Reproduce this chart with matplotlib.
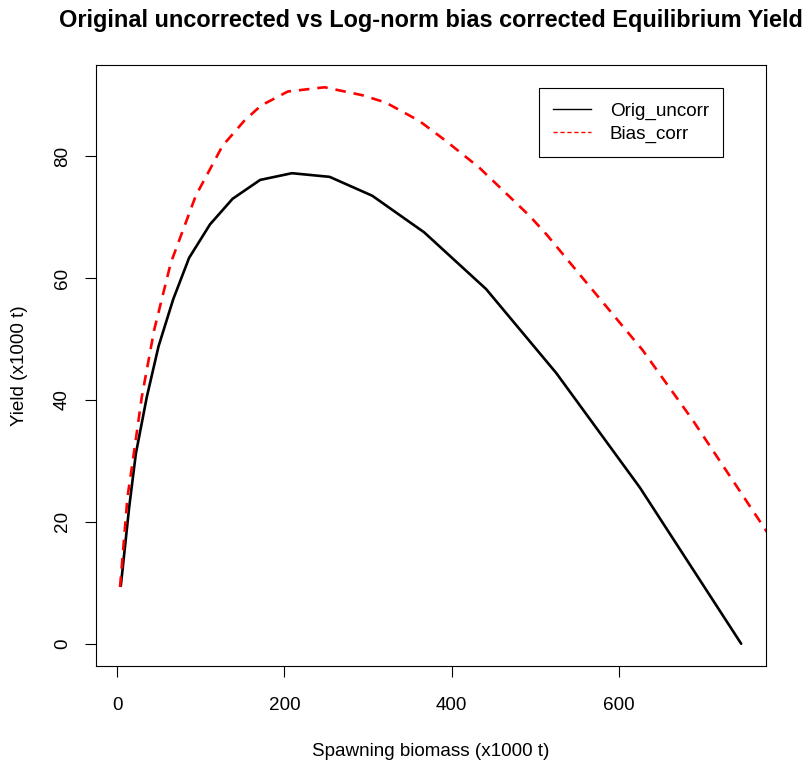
import matplotlib
matplotlib.use("Agg")
import matplotlib.pyplot as plt
from matplotlib.lines import Line2D

plt.rcParams['font.family'] = ['Liberation Sans', 'DejaVu Sans']

# Data (x1000 t)
orig_ssb = [4.4, 14.4, 22.4, 35.5, 49.5, 67, 86, 111, 138, 171, 209, 254, 305, 367, 441, 525, 625, 746]
orig_yield = [9.5, 22.4, 31.2, 40.5, 48.8, 56.5, 63.3, 68.8, 73.0, 76.1, 77.2, 76.6, 73.5, 67.5, 58.2, 44.4, 25.6, 0.0]

bias_ssb = [3.5, 12.4, 18.3, 29.5, 44.3, 64.2, 94, 126, 152, 172, 204, 248, 293, 321, 361, 393, 433, 493, 513, 571, 628, 688, 777]
bias_yield = [9.3, 24.1, 29.6, 40.5, 51.5, 62.5, 73.5, 81.7, 85.8, 88.3, 90.6, 91.3, 90.0, 88.8, 85.8, 82.5, 78.1, 70.2, 67.2, 57.6, 48.2, 36.7, 18.3]

xticks = [0, 200, 400, 600]
yticks = [0, 20, 40, 60, 80]
title = "Original uncorrected vs Log-norm bias corrected Equilibrium Yield"
xlab = "Spawning biomass (x1000 t)"
ylab = "Yield (x1000 t)"
labels = ["Orig_uncorr", "Bias_corr"]

W, H = 805, 765
fig = plt.figure(figsize=(W / 100, H / 100), dpi=100)
L, R, T, B = 96, 766, 65, 666
ax = fig.add_axes([L / W, 1 - B / H, (R - L) / W, (B - T) / H])

ax.plot(orig_ssb, orig_yield, color='black', lw=1.9, solid_capstyle='round', solid_joinstyle='round')
ax.plot(bias_ssb, bias_yield, color='red', lw=1.9, linestyle=(0, (4, 3)), dash_capstyle='butt')

# R-style 4% axis expansion
xmin, xmax = min(orig_ssb), max(orig_ssb)
ymin = min(min(orig_yield), min(bias_yield))
ymax = max(max(orig_yield), max(bias_yield))
dx, dy = (xmax - xmin) * 0.04, (ymax - ymin) * 0.04
ax.set_xlim(xmin - dx, xmax + dx)
ax.set_ylim(ymin - dy, ymax + dy)

fs = 13.6
ax.set_xticks(xticks)
ax.set_xticklabels([str(v) for v in xticks], fontsize=fs)
ax.set_yticks(yticks)
ax.set_yticklabels([str(v) for v in yticks], fontsize=fs, rotation=90, va='center')
ax.tick_params(axis='both', direction='out', length=8, width=0.8, color='black')
ax.tick_params(axis='x', pad=14)
ax.tick_params(axis='y', pad=10)
for s in ax.spines.values():
    s.set_linewidth(0.8)
    s.set_color('black')

fig.text((L + R) / 2 / W, 1 - 20 / H, title, ha='center', va='center', fontsize=16.9, weight='bold')
fig.text((L + R) / 2 / W, 1 - 751 / H, xlab, ha='center', va='center', fontsize=fs)
fig.text(20 / W, 1 - (T + B) / 2 / H, ylab, ha='center', va='center', rotation=90, fontsize=fs)

handles = [Line2D([], [], color='black', lw=1.0),
           Line2D([], [], color='red', lw=1.0, linestyle=(0, (3, 2)))]
leg = ax.legend(handles, labels, loc='upper right',
                bbox_to_anchor=((723 - L) / (R - L), (B - 88) / (B - T)),
                fontsize=fs, frameon=True, fancybox=False, framealpha=1,
                edgecolor='black', borderaxespad=0, borderpad=0.75,
                handlelength=2.0, handletextpad=1.0, labelspacing=0.3)
leg.get_frame().set_linewidth(0.8)

fig.savefig("out.png", dpi=100)
